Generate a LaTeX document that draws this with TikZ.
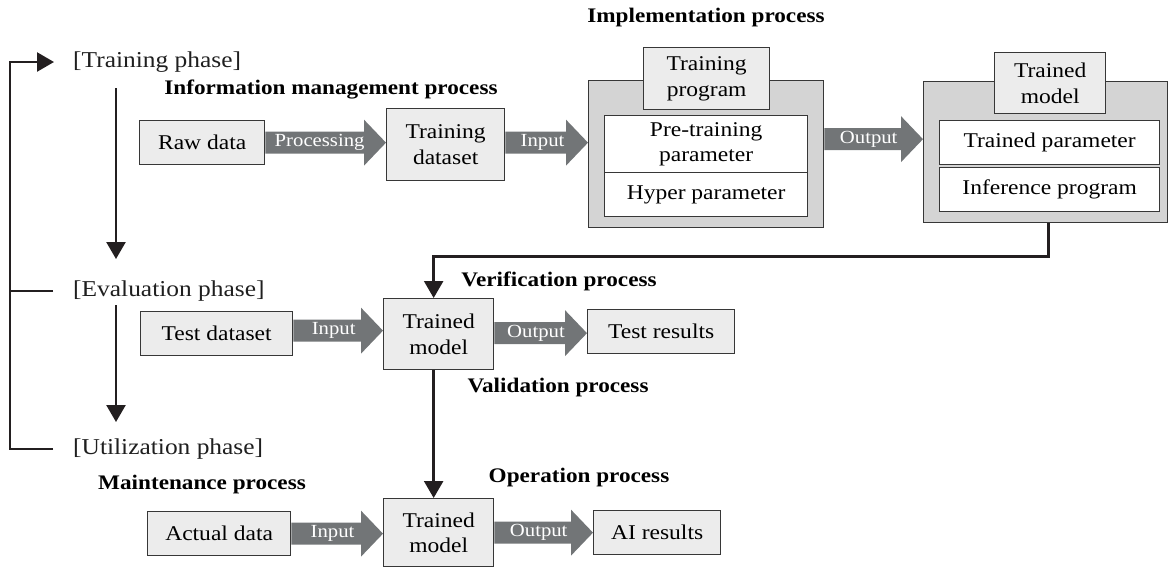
\documentclass[tikz,border=0pt]{standalone}
\usepackage{fontspec}
\setmainfont{Liberation Serif}[FakeStretch=1.12]
\usetikzlibrary{arrows.meta,calc}
\definecolor{arrgray}{RGB}{114,117,119}
\definecolor{boxfill}{RGB}{236,236,236}
\definecolor{outerfill}{RGB}{212,212,212}
\definecolor{bordercol}{RGB}{55,55,55}
\definecolor{linecol}{RGB}{35,31,32}
\newcommand\fatarrow[3]{%
  \fill[arrgray] let \p1=(#1), \p2=(#2) in
    (\x1,\y1+11pt) -- (\x2-22pt,\y1+11pt) -- (\x2-22pt,\y1+23pt) -- (\x2,\y1)
    -- (\x2-22pt,\y1-23pt) -- (\x2-22pt,\y1-11pt) -- (\x1,\y1-11pt) -- cycle;
  \node[arrlabel] at ($(#1)!0.45!(#2)$) {#3};
}
\begin{document}
\begin{tikzpicture}[x=1pt,y=-1pt,
  box/.style={draw=bordercol, fill=boxfill, line width=1.3pt, inner sep=0pt,
    anchor=north west, align=center, font=\fontsize{21}{25.5}\selectfont},
  whitebox/.style={box, fill=white},
  outerbox/.style={box, fill=outerfill},
  arrlabel/.style={text=white, inner sep=0pt, font=\fontsize{18.5}{20}\selectfont},
  phase/.style={anchor=west, inner sep=0pt, font=\fontsize{22.7}{24}\selectfont, text=black!88},
  proc/.style={inner sep=0pt, font=\fontsize{20.7}{24}\selectfont\bfseries},
  conn/.style={draw=linecol, line width=2.5pt},
  tip/.style={-{Triangle[length=17pt,width=19pt]}},
]
\useasboundingbox (0,0) rectangle (1168,566);

% phases
\node[phase] (ph1) at (73,62) {[Training phase]};
\node[phase] (ph2) at (73,291) {[Evaluation phase]};
\node[phase] (ph3) at (73,449) {[Utilization phase]};
\coordinate (bx) at (10,0);
\draw[conn,tip] ([xshift=-20pt]ph3.west) -| (bx |- ph1.west) -- ([xshift=-19pt]ph1.west);
\draw[conn] ([xshift=-20pt]ph2.west) -- (bx |- ph2.west);
\coordinate (d1s) at (116,88);
\coordinate (d1e) at (116,259);
\coordinate (d2s) at (116,305);
\coordinate (d2e) at (116,422);
\draw[conn,tip] (d1s) -- (d1e);
\draw[conn,tip] (d2s) -- (d2e);

% process titles
\node[proc] (pinfo) at (331,89) {Information management process};
\node[proc] (pimpl) at (706,18) {Implementation process};
\node[proc] (pver) at (559,281) {Verification process};
\node[proc] (pval) at (558,388) {Validation process};
\node[proc] (pop) at (579,478) {Operation process};
\node[proc] (pmain) at (202,485) {Maintenance process};

% training row
\node[box, minimum width=125pt, minimum height=44pt] (raw) at (139,120) {Raw data};
\node[box, minimum width=118pt, minimum height=72pt] (tds) at (386,108) {Training\\dataset};
\node[outerbox, minimum width=235pt, minimum height=147pt] (impl) at (588,80) {};
\node[box, minimum width=126pt, minimum height=62pt] (tprog) at (643,47) {Training\\program};
\node[whitebox, minimum width=203pt, minimum height=57pt] (pre) at (604,115) {Pre-training\\parameter};
\node[whitebox, minimum width=203pt, minimum height=44pt] (hyp) at (604,172) {Hyper parameter};
\node[outerbox, minimum width=244pt, minimum height=141pt] (tmo) at (923,81) {};
\node[box, minimum width=111pt, minimum height=61pt] (tmt) at (994,52) {Trained\\model};
\node[whitebox, minimum width=220pt, minimum height=44pt] (tpar) at (939,120) {Trained parameter};
\node[whitebox, minimum width=220pt, minimum height=44pt] (infp) at (939,167) {Inference program};

\fatarrow{raw.east}{raw.east -| tds.west}{Processing}
\coordinate (i1) at ([yshift=2pt]tds.east);
\fatarrow{i1}{i1 -| impl.west}{Input}
\coordinate (o1) at ([yshift=15pt]impl.east);
\fatarrow{o1}{o1 -| tmo.west}{Output}

% evaluation row
\node[box, minimum width=152pt, minimum height=44pt] (tsd) at (140,311) {Test dataset};
\node[box, minimum width=110pt, minimum height=71pt] (tm1) at (383,298) {Trained\\model};
\node[box, minimum width=147pt, minimum height=44pt] (tres) at (587,309) {Test results};
\coordinate (i2) at ([yshift=3pt]tsd.east);
\fatarrow{i2}{i2 -| tm1.west}{Input}
\coordinate (o2) at ([yshift=1pt]tm1.east);
\fatarrow{o2}{o2 -| tres.west}{Output}

% utilization row
\node[box, minimum width=143pt, minimum height=44pt] (act) at (147,511) {Actual data};
\node[box, minimum width=110pt, minimum height=68pt] (tm2) at (383,498) {Trained\\model};
\node[box, minimum width=127pt, minimum height=44pt] (air) at (593,510) {AI results};
\fatarrow{act.east}{act.east -| tm2.west}{Input}
\fatarrow{tm2.east}{tm2.east -| air.west}{Output}

% black connectors
\coordinate (tm1in) at ([xshift=-5pt]tm1.north);
\draw[conn,tip] ([xshift=3pt]tmo.south) -- ++(0,33) -| (tm1in);
\draw[conn,tip] ([xshift=-5pt]tm1.south) -- ([xshift=-5pt]tm2.north);
\end{tikzpicture}
\end{document}
